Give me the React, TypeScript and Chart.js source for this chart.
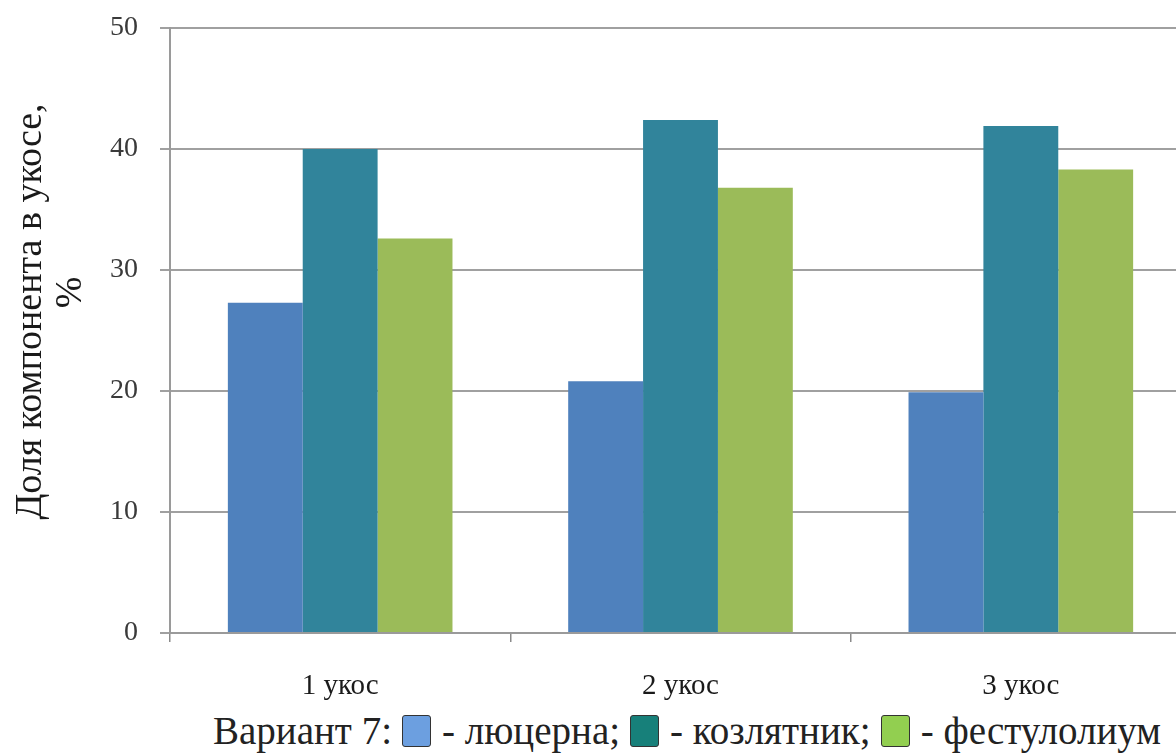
import React, { useEffect, useRef } from "react";
import { Chart, registerables } from "chart.js";

Chart.register(...registerables);

const categories = ["1 укос", "2 укос", "3 укос"];
const seriesNames = ["люцерна", "козлятник", "фестулолиум"];
const lucerne = [27.3, 20.8, 19.9];
const galega = [40.0, 42.4, 41.9];
const festulolium = [32.6, 36.8, 38.3];
const barColors = ["#4F81BD", "#31849B", "#9BBB59"];
const legendColors = ["#6C9FE0", "#17807A", "#92CF50"];
const yMin = 0;
const yMax = 50;
const yStep = 10;
const yTitle = ["    Доля компонента в укосе,", "        %"];
const legendPrefix = "Вариант 7:";

const W = 1200;
const H = 700;
const FONT = "'Liberation Serif', 'Times New Roman', serif";

export default function App() {
  const ref = useRef<HTMLCanvasElement | null>(null);

  useEffect(() => {
    document.body.style.margin = "0";
    const canvas = ref.current;
    if (!canvas) return;
    const chart = new Chart(canvas, {
      type: "bar",
      data: {
        labels: categories,
        datasets: [lucerne, galega, festulolium].map((d, i) => ({
          label: seriesNames[i],
          data: d,
          backgroundColor: barColors[i],
          borderWidth: 0,
          barPercentage: 1,
          categoryPercentage: 0.66,
        })),
      },
      options: {
        responsive: false,
        animation: false,
        layout: { autoPadding: false, padding: { top: 28, right: 9, left: 0, bottom: 0 } },
        plugins: { legend: { display: false }, tooltip: { enabled: false } },
        scales: {
          x: {
            afterFit: (s: any) => {
              s.height = H - 633;
              s.paddingLeft = 0;
              s.paddingRight = 0;
            },
            grid: {
              display: true,
              drawOnChartArea: false,
              drawTicks: true,
              tickLength: 9,
              color: "#8a8a8a",
              lineWidth: 1.5,
              offset: true,
            },
            border: { display: true, color: "#9a9a9a", width: 2 },
            ticks: {
              color: "#1a1a1a",
              padding: 27,
              font: { family: FONT, size: 29 },
            },
          },
          y: {
            min: yMin,
            max: yMax,
            afterFit: (s: any) => {
              s.width = 170;
              s.paddingTop = 0;
              s.paddingBottom = 0;
            },
            grid: {
              color: "#a0a0a0",
              lineWidth: 2,
              drawTicks: true,
              tickLength: 10,
            },
            border: { display: true, color: "#9a9a9a", width: 2 },
            ticks: {
              stepSize: yStep,
              color: "#3a3a3a",
              padding: 22,
              font: { family: FONT, size: 28 },
            },
            title: {
              display: true,
              text: yTitle,
              color: "#1a1a1a",
              padding: { top: 11, bottom: 0 },
              font: { family: FONT, size: 38, lineHeight: 1.05 },
            },
          },
        },
      },
    });
    return () => chart.destroy();
  }, []);

  return (
    <div style={{ width: 1176, height: 753, overflow: "hidden", position: "relative", background: "#fff" }}>
      <canvas ref={ref} width={W} height={H} style={{ display: "block", width: W, height: H }} />
      <div
        style={{
          position: "absolute",
          left: 170,
          width: 1034,
          top: 708,
          height: 45,
          display: "flex",
          alignItems: "center",
          justifyContent: "center",
          fontFamily: FONT,
          fontSize: 39,
          color: "#222",
          whiteSpace: "nowrap",
        }}
      >
        <span>{legendPrefix}</span>
        {seriesNames.map((n, i) => (
          <React.Fragment key={n}>
            <span
              style={{
                display: "inline-block",
                width: 27,
                height: 30,
                background: legendColors[i],
                border: "1.5px solid #333",
                borderRadius: 3,
                margin: "0 11px 0 10px",
              }}
            />
            <span>{"- " + n + (i < seriesNames.length - 1 ? ";" : "")}</span>
          </React.Fragment>
        ))}
      </div>
    </div>
  );
}
